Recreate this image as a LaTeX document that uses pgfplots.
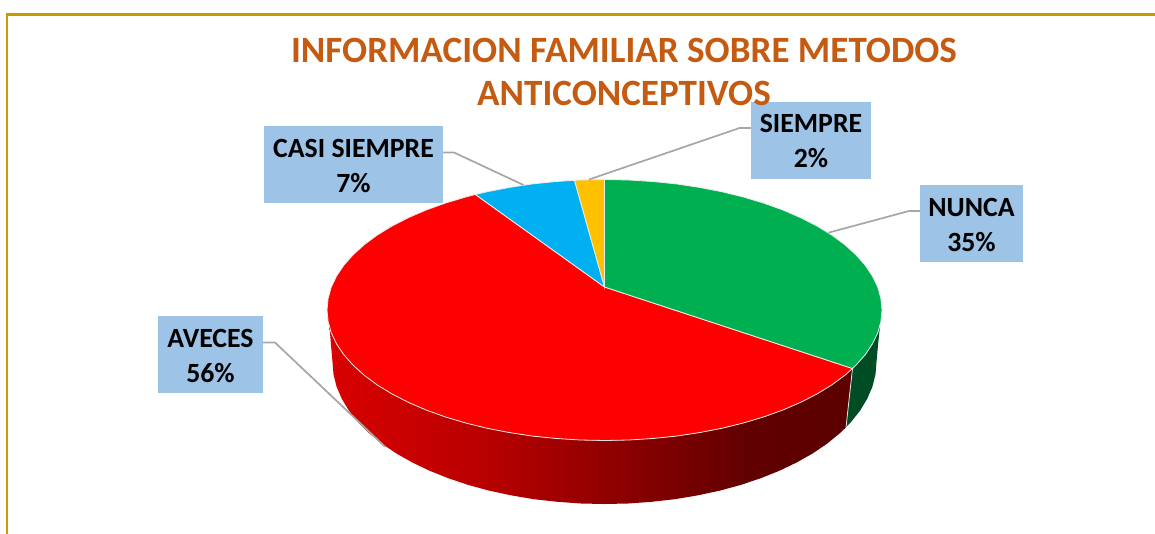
\documentclass[border=0pt]{standalone}
\usepackage{fontspec}
\setmainfont{Carlito}
\usepackage{pgfplots}
\pgfplotsset{compat=1.18}

\definecolor{slicegreen}{HTML}{00B050}
\definecolor{sidegreen}{HTML}{004D25}
\definecolor{slicered}{HTML}{FF0000}
\definecolor{sliceblue}{HTML}{00B0F0}
\definecolor{sliceyellow}{HTML}{FFC000}
\definecolor{labelbox}{HTML}{9DC3E6}
\definecolor{titlecol}{HTML}{C55A11}
\definecolor{framecol}{HTML}{C69A00}
\definecolor{leader}{HTML}{A6A6A6}

% red wall: light on the left, dark from about two thirds on
\pgfdeclarehorizontalshading{redwall}{100bp}{
  rgb(0bp)=(0.85,0,0); rgb(25bp)=(0.85,0,0); rgb(40bp)=(0.72,0,0);
  rgb(55bp)=(0.52,0,0); rgb(65bp)=(0.38,0,0); rgb(75bp)=(0.36,0,0); rgb(100bp)=(0.36,0,0)}

\begin{document}
\begin{tikzpicture}
\begin{axis}[
    scale only axis,
    width=1155pt, height=533pt,
    xmin=0, xmax=1155,
    ymin=0, ymax=533,
    y dir=reverse,
    hide axis,
    clip=true,
]
% frame
\addplot[framecol, line width=2.4pt] coordinates {(7,540)(7,14.5)(1160,14.5)};

% red wall
\addplot[draw=none, shading=redwall] coordinates {
  (852.5,368.5)(844.8,375.3)(831.8,384.9)(817.1,393.9)(800.7,402.3)(782.9,410)(763.7,416.9)(743.3,423)
  (721.8,428.3)(699.4,432.6)(676.3,436.1)(652.7,438.5)(628.7,440)(604.5,440.5)(580.3,440)(556.3,438.5)
  (532.7,436.1)(509.6,432.6)(487.2,428.3)(465.7,423)(445.3,416.9)(426.1,410)(408.3,402.3)(391.9,393.9)
  (377.2,384.9)(364.2,375.3)(353,365.1)(343.7,354.6)(336.5,343.8)(331.2,332.7)(329.5,327)
  (331,345)(332.5,362)(333.5,374.4)(336.6,386.7)(341.8,398.8)(348.9,410.6)(358,422)(368.9,433)
  (381.7,443.5)(396.1,453.3)(412.2,462.4)(429.7,470.8)(448.5,478.3)(468.5,485)(489.5,490.7)(511.5,495.4)
  (534.1,499.2)(557.3,501.8)(580.8,503.5)(604.5,504)(628.2,503.5)(651.7,501.8)(674.9,499.2)(697.5,495.4)
  (719.5,490.7)(740.5,485)(760.5,478.3)(779.3,470.8)(796.8,462.4)(812.9,453.3)(827.3,443.5)(840.1,433)(846,427.3)
} -- cycle;

% green wall
\addplot[draw=none, fill=sidegreen] coordinates {
  (852.5,368.5)(856,365.1)(865.3,354.6)(872.5,343.8)(877.8,332.7)(880,326)
  (878,345)(876.5,362)(875.5,374.4)(872.4,386.7)(867.2,398.8)(860.1,410.6)(851,422)(846,427.3)
} -- cycle;
\addplot[white!80!gray, line width=0.8pt] coordinates {(852.5,368.5)(846,427.3)};

% top face
\addplot[draw=white!85!gray, line width=0.8pt, fill=slicered] coordinates {
  (604.5,287)(852.5,368.5)(844.8,375.3)(831.8,384.9)(817.1,393.9)(800.7,402.3)(782.9,410)(763.7,416.9)(743.3,423)
  (721.8,428.3)(699.4,432.6)(676.3,436.1)(652.7,438.5)(628.7,440)(604.5,440.5)(580.3,440)(556.3,438.5)
  (532.7,436.1)(509.6,432.6)(487.2,428.3)(465.7,423)(445.3,416.9)(426.1,410)(408.3,402.3)(391.9,393.9)
  (377.2,384.9)(364.2,375.3)(353,365.1)(343.7,354.6)(336.5,343.8)(331.2,332.7)(328.1,321.4)(327,310)
  (328.1,298.6)(331.2,287.3)(336.5,276.2)(343.7,265.4)(353,254.9)(364.2,244.7)(377.2,235.1)(391.9,226.1)
  (408.3,217.7)(426.1,210)(445.3,203.1)(465.7,197)(475.4,194.5)
} -- cycle;
\addplot[draw=white!85!gray, line width=0.8pt, fill=sliceblue] coordinates {
  (604.5,287)(475.4,194.5)(487.2,191.7)(509.6,187.4)(532.7,183.9)(556.3,181.5)(574.5,180.3)
} -- cycle;
\addplot[draw=white!85!gray, line width=0.8pt, fill=sliceyellow] coordinates {
  (604.5,287)(574.5,180.3)(580.3,180)(604.5,179.5)
} -- cycle;
\addplot[draw=white!85!gray, line width=0.8pt, fill=slicegreen] coordinates {
  (604.5,287)(604.5,179.5)(628.7,180)(652.7,181.5)(676.3,183.9)(699.4,187.4)(721.8,191.7)(743.3,197)(763.7,203.1)
  (782.9,210)(800.7,217.7)(817.1,226.1)(831.8,235.1)(844.8,244.7)(856,254.9)(865.3,265.4)(872.5,276.2)(877.8,287.3)
  (880.9,298.6)(882,310)(880.9,321.4)(877.8,332.7)(872.5,343.8)(865.3,354.6)(856,365.1)(852.5,368.5)
} -- cycle;

% leader lines
\addplot[leader, line width=1.7pt] coordinates {(443,152.5)(454,152.5)(523.5,185)};
\addplot[leader, line width=1.7pt] coordinates {(751,128)(739.6,128)(589,179.5)};
\addplot[leader, line width=1.7pt] coordinates {(920,211)(909,211)(828.4,232.7)};
\addplot[leader, line width=1.7pt] coordinates {(263,342.5)(275,342.5)(385,446.7)};

% label boxes
\addplot[draw=none, fill=labelbox] coordinates {(264,126)(443,126)(443,203)(264,203)} -- cycle;
\addplot[draw=none, fill=labelbox] coordinates {(751,102)(871,102)(871,179)(751,179)} -- cycle;
\addplot[draw=none, fill=labelbox] coordinates {(920,185)(1023,185)(1023,262)(920,262)} -- cycle;
\addplot[draw=none, fill=labelbox] coordinates {(158,316)(263,316)(263,393)(158,393)} -- cycle;

\node[align=center, inner sep=0pt, font=\fontsize{27.8}{34.5}\selectfont\bfseries] at (axis cs:353.5,166) {CASI SIEMPRE\\7\%};
\node[align=center, inner sep=0pt, font=\fontsize{27.8}{34.5}\selectfont\bfseries] at (axis cs:811,141) {SIEMPRE\\2\%};
\node[align=center, inner sep=0pt, font=\fontsize{27.8}{34.5}\selectfont\bfseries] at (axis cs:971.5,225) {NUNCA\\35\%};
\node[align=center, inner sep=0pt, font=\fontsize{27.8}{34.5}\selectfont\bfseries] at (axis cs:210.5,356) {AVECES\\56\%};

% title
\node[align=center, inner sep=0pt, text=titlecol, font=\fontsize{37.1}{43}\selectfont\bfseries] at (axis cs:624,72)
  {INFORMACION FAMILIAR SOBRE METODOS\\ANTICONCEPTIVOS};
\end{axis}
\path[use as bounding box] (0,0) rectangle (1155pt,533pt);
\end{tikzpicture}
\end{document}
